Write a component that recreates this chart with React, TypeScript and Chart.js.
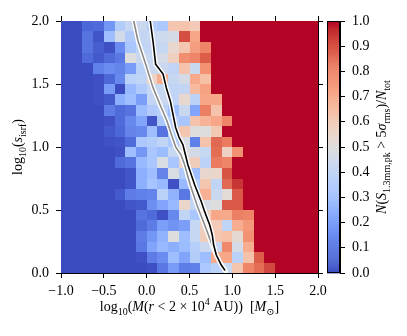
import { useEffect, useRef } from 'react';
import { Chart, registerables } from 'chart.js';

Chart.register(...registerables);

// Bin edges of the 2D histogram
const xEdges = [-1, -0.875, -0.75, -0.625, -0.5, -0.375, -0.25, -0.125, 0, 0.125, 0.25, 0.375, 0.5, 0.625, 0.75, 0.875, 1, 1.125, 1.25, 1.375, 1.5, 1.625, 1.75, 1.875, 2];
const yEdges = [0, 0.0833, 0.1667, 0.25, 0.3333, 0.4167, 0.5, 0.5833, 0.6667, 0.75, 0.8333, 0.9167, 1, 1.0833, 1.1667, 1.25, 1.3333, 1.4167, 1.5, 1.5833, 1.6667, 1.75, 1.8333, 1.9167, 2];

// Detected fraction per cell, rows listed from the top (log s = 2) to the bottom (log s = 0)
const fractionRowsTopDown = [
  [0, 0, 0.06, 0.07, 0.18, 0.36, 0.42, 0.43, 0.37, 0.34, 0.62, 0.63, 0.6, 1, 1, 1, 1, 1, 1, 1, 1, 1, 1, 1],
  [0, 0, 0.09, 0.02, 0.3, 0.46, 0.35, 0.41, 0.42, 0.44, 0.47, 0.91, 0.72, 1, 1, 1, 1, 1, 1, 1, 1, 1, 1, 1],
  [0, 0, 0.09, 0.04, 0.01, 0.15, 0.33, 0.4, 0.41, 0.42, 0.54, 0.62, 0.74, 0.8, 1, 1, 1, 1, 1, 1, 1, 1, 1, 1],
  [0, 0, 0.07, 0.03, 0.07, 0.1, 0.5, 0.43, 0.42, 0.47, 0.58, 0.78, 0.8, 0.88, 1, 1, 1, 1, 1, 1, 1, 1, 1, 1],
  [0, 0, 0, 0.12, 0.15, 0.13, 0.19, 0.38, 0.43, 0.43, 0.4, 0.63, 0.43, 0.77, 1, 1, 1, 1, 1, 1, 1, 1, 1, 1],
  [0, 0, 0, 0.01, 0.06, 0.14, 0.38, 0.4, 0.57, 0.7, 0.42, 0.47, 0.71, 0.64, 1, 1, 1, 1, 1, 1, 1, 1, 1, 1],
  [0, 0, 0, 0.01, 0.19, 0, 0.28, 0.35, 0.42, 0.42, 0.4, 0.41, 0.66, 0.73, 1, 1, 1, 1, 1, 1, 1, 1, 1, 1],
  [0, 0, 0, 0.01, 0.03, 0.25, 0.3, 0.2, 0.41, 0.43, 0.4, 0.54, 0.39, 0.72, 0.72, 1, 1, 1, 1, 1, 1, 1, 1, 1],
  [0, 0, 0, 0, 0.11, 0.07, 0.09, 0.29, 0.35, 0.38, 0.3, 0.43, 0.22, 0.81, 0.63, 1, 1, 1, 1, 1, 1, 1, 1, 1],
  [0, 0, 0, 0, 0.01, 0.07, 0.14, 0.22, 0.02, 0.34, 0.37, 0.33, 0.63, 0.68, 0.72, 0.8, 1, 1, 1, 1, 1, 1, 1, 1],
  [0, 0, 0, 0, 0.03, 0.06, 0.13, 0.14, 0.3, 0.09, 0.34, 0.62, 0.5, 0.5, 0.61, 1, 1, 1, 1, 1, 1, 1, 1, 1],
  [0, 0, 0, 0, 0.01, 0.02, 0.07, 0.34, 0.36, 0.4, 0.34, 0.48, 0.12, 0.63, 0.86, 0.82, 1, 1, 1, 1, 1, 1, 1, 1],
  [0, 0, 0, 0, 0, 0.01, 0.3, 0.18, 0.33, 0.29, 0.42, 0.48, 0.46, 0.42, 0.85, 0.57, 0.77, 1, 1, 1, 1, 1, 1, 1],
  [0, 0, 0, 0, 0, 0.07, 0.09, 0.28, 0.33, 0.48, 0.33, 0.55, 0.59, 0.39, 0.82, 0.8, 1, 1, 1, 1, 1, 1, 1, 1],
  [0, 0, 0, 0, 0, 0, 0.02, 0.25, 0.3, 0.13, 0.48, 0.35, 0.3, 0.54, 0.55, 0.9, 1, 1, 1, 1, 1, 1, 1, 1],
  [0, 0, 0, 0, 0, 0, 0.02, 0.25, 0.32, 0.28, 0.01, 0.28, 0.36, 0.62, 0.4, 0.86, 0.95, 1, 1, 1, 1, 1, 1, 1],
  [0, 0, 0, 0, 0, 0.03, 0.11, 0.12, 0.13, 0.38, 0.26, 0.1, 0.37, 0.69, 0.43, 0.52, 0.89, 1, 1, 1, 1, 1, 1, 1],
  [0, 0, 0, 0, 0, 0, 0.02, 0.03, 0.16, 0.22, 0.28, 0.55, 0.41, 0.47, 0.5, 0.89, 0.89, 1, 1, 1, 1, 1, 1, 1],
  [0, 0, 0, 0, 0, 0, 0, 0.09, 0.07, 0.01, 0.14, 0.4, 0.33, 0.57, 0.72, 0.71, 0.81, 0.8, 1, 1, 1, 1, 1, 1],
  [0, 0, 0, 0, 0, 0, 0, 0.07, 0.11, 0.2, 0.17, 0.2, 0.42, 0.57, 0.6, 0.4, 0.7, 0.75, 1, 1, 1, 1, 1, 1],
  [0, 0, 0, 0, 0, 0, 0, 0.11, 0.18, 0.26, 0.5, 0.3, 0.42, 0.59, 0.62, 0.64, 0.53, 0.77, 1, 1, 1, 1, 1, 1],
  [0, 0, 0, 0, 0, 0, 0, 0.1, 0.22, 0.28, 0.25, 0.29, 0.37, 0.43, 0.42, 0.79, 0.47, 0.7, 1, 1, 1, 1, 1, 1],
  [0, 0, 0, 0, 0, 0, 0, 0.01, 0.11, 0.15, 0.3, 0.22, 0.36, 0.3, 0.71, 0.72, 0.38, 0.63, 0.88, 1, 1, 1, 1, 1],
  [0, 0, 0, 0, 0, 0, 0, 0, 0.01, 0.1, 0.19, 0.11, 0.12, 0.34, 0.38, 0.42, 0.62, 0.8, 0.85, 0.92, 1, 1, 1, 1],
];

// 50% detection contours (black and grey curves)
const blackLineX = [0.042, 0.074, 0.105, 0.156, 0.191, 0.229, 0.276, 0.307, 0.339, 0.377, 0.424, 0.482, 0.561, 0.638, 0.677, 0.736, 0.766, 0.782, 0.813, 0.871, 0.911];
const blackLineY = [2.0, 1.841, 1.656, 1.611, 1.579, 1.471, 1.365, 1.26, 1.153, 1.079, 1.016, 0.857, 0.698, 0.566, 0.487, 0.381, 0.302, 0.222, 0.143, 0.063, 0.024];
const greyLineX = [-0.151, -0.101, -0.011, 0.074, 0.171, 0.237, 0.288, 0.339, 0.401, 0.444, 0.509, 0.587, 0.677, 0.736, 0.794, 0.852, 0.922];
const greyLineY = [2.0, 1.841, 1.656, 1.471, 1.312, 1.206, 1.101, 1.0, 0.937, 0.857, 0.698, 0.54, 0.381, 0.275, 0.169, 0.09, 0.016];

const xTicks = [-1, -0.5, 0, 0.5, 1, 1.5, 2];
const yTicks = [0, 0.5, 1, 1.5, 2];
const cbTicks = [0, 0.1, 0.2, 0.3, 0.4, 0.5, 0.6, 0.7, 0.8, 0.9, 1];

const FONT = "'Liberation Serif', 'DejaVu Serif', serif";

// Moreland coolwarm table
const COOLWARM = [
  [59, 76, 192], [68, 90, 204], [77, 104, 215], [87, 117, 225], [98, 130, 234], [108, 142, 241],
  [119, 154, 247], [130, 165, 251], [141, 176, 254], [152, 185, 255], [163, 194, 255], [174, 201, 253],
  [184, 208, 249], [194, 213, 244], [204, 217, 238], [213, 219, 230], [221, 221, 221], [229, 216, 209],
  [236, 211, 197], [241, 204, 185], [245, 196, 173], [247, 187, 160], [247, 177, 148], [247, 166, 135],
  [244, 154, 123], [241, 141, 111], [236, 127, 99], [229, 112, 88], [222, 96, 77], [213, 80, 66],
  [203, 62, 56], [192, 40, 47], [180, 4, 38],
];

function coolwarm(v: number): string {
  const t = Math.max(0, Math.min(1, v)) * 32;
  const i = Math.min(31, Math.floor(t));
  const f = t - i;
  const a = COOLWARM[i];
  const b = COOLWARM[i + 1];
  const c = a.map((av, k) => Math.round(av + (b[k] - av) * f));
  return `rgb(${c[0]},${c[1]},${c[2]})`;
}

const fmt = (v: any) => {
  const n = Number(v);
  return (n < 0 ? '\u2212' : '') + Math.abs(n).toFixed(1);
};

type Seg = { t: string; it?: boolean; sub?: boolean; sup?: boolean };

function drawRich(ctx: CanvasRenderingContext2D, segs: Seg[], x: number, y: number, size: number, rot: number) {
  ctx.save();
  ctx.translate(x, y);
  ctx.rotate(rot);
  ctx.fillStyle = '#000';
  ctx.textBaseline = 'alphabetic';
  ctx.textAlign = 'left';
  const fontFor = (s: Seg) => `${s.it ? 'italic ' : ''}${s.sub || s.sup ? Math.round(size * 0.7) : size}px ${FONT}`;
  let total = 0;
  const widths = segs.map((s) => {
    ctx.font = fontFor(s);
    const w = ctx.measureText(s.t).width;
    total += w;
    return w;
  });
  let cx = -total / 2;
  segs.forEach((s, i) => {
    ctx.font = fontFor(s);
    const dy = s.sub ? size * 0.28 : s.sup ? -size * 0.42 : 0;
    ctx.fillText(s.t, cx, dy);
    cx += widths[i];
  });
  ctx.restore();
}

const heatmapPlugin = {
  id: 'heatmap',
  beforeDatasetsDraw(chart: any) {
    const { ctx, chartArea, scales } = chart;
    const xs = scales.x;
    const ys = scales.y;
    ctx.save();
    ctx.beginPath();
    ctx.rect(chartArea.left, chartArea.top, chartArea.right - chartArea.left, chartArea.bottom - chartArea.top);
    ctx.clip();
    const nRows = fractionRowsTopDown.length;
    fractionRowsTopDown.forEach((row, ti) => {
      const r = nRows - 1 - ti;
      const y0 = Math.round(ys.getPixelForValue(yEdges[r + 1]));
      const y1 = Math.round(ys.getPixelForValue(yEdges[r]));
      row.forEach((v, c) => {
        const x0 = Math.round(xs.getPixelForValue(xEdges[c]));
        const x1 = Math.round(xs.getPixelForValue(xEdges[c + 1]));
        ctx.fillStyle = coolwarm(v);
        ctx.fillRect(x0, y0, x1 - x0, y1 - y0);
      });
    });
    ctx.restore();
  },
  afterDraw(chart: any) {
    const { ctx, chartArea } = chart;
    const cx = (chartArea.left + chartArea.right) / 2;
    const cy = (chartArea.top + chartArea.bottom) / 2;
    drawRich(
      ctx,
      [
        { t: 'log' }, { t: '10', sub: true }, { t: '(' }, { t: 'M', it: true }, { t: '(' }, { t: 'r', it: true },
        { t: ' < 2 \u00d7 10' }, { t: '4', sup: true }, { t: ' AU))  [' }, { t: 'M', it: true }, { t: '\u2299', sub: true }, { t: ']' },
      ],
      cx, 311, 14, 0
    );
    drawRich(
      ctx,
      [{ t: 'log' }, { t: '10', sub: true }, { t: '(' }, { t: 's', it: true }, { t: 'isrf', sub: true }, { t: ')' }],
      22, cy, 14, -Math.PI / 2
    );
  },
};

const colorbarPlugin = {
  id: 'colorbar',
  beforeDatasetsDraw(chart: any) {
    const { ctx, chartArea, scales } = chart;
    const ys = scales.y;
    const n = 256;
    for (let i = 0; i < n; i++) {
      const y0 = ys.getPixelForValue((i + 1) / n);
      const y1 = ys.getPixelForValue(i / n);
      ctx.fillStyle = coolwarm((i + 0.5) / n);
      ctx.fillRect(chartArea.left, y0, chartArea.right - chartArea.left, y1 - y0 + 0.5);
    }
  },
  afterDraw(chart: any) {
    const { ctx, chartArea } = chart;
    ctx.save();
    ctx.strokeStyle = '#000';
    ctx.lineWidth = 1;
    ctx.strokeRect(chartArea.left + 0.5, chartArea.top + 0.5, chartArea.right - chartArea.left - 1, chartArea.bottom - chartArea.top - 1);
    ctx.restore();
    const cy = (chartArea.top + chartArea.bottom) / 2;
    drawRich(
      ctx,
      [
        { t: 'N', it: true }, { t: '(' }, { t: 'S', it: true }, { t: '1.3mm,pk', sub: true }, { t: ' > 5' },
        { t: '\u03c3', it: true }, { t: 'rms', sub: true }, { t: ')/' }, { t: 'N', it: true }, { t: 'tot', sub: true },
      ],
      386, cy, 14, -Math.PI / 2
    );
  },
};

const gridOpts = { drawOnChartArea: false, drawTicks: true, tickLength: 5, color: '#000', lineWidth: 1 };
const borderOpts = { display: true, color: '#000', width: 1 };
const tickFont = { family: FONT, size: 14 };

export default function App() {
  const mainRef = useRef<HTMLCanvasElement>(null);
  const cbRef = useRef<HTMLCanvasElement>(null);

  useEffect(() => {
    const blackPts = blackLineX.map((x, i) => ({ x, y: blackLineY[i] }));
    const greyPts = greyLineX.map((x, i) => ({ x, y: greyLineY[i] }));
    const lineBase = { showLine: true, pointRadius: 0, tension: 0, borderJoinStyle: 'round', borderCapStyle: 'round' };

    const main = new Chart(mainRef.current as HTMLCanvasElement, {
      type: 'scatter',
      data: {
        datasets: [
          { ...lineBase, data: blackPts, borderColor: '#000', borderWidth: 1.6 },
          { ...lineBase, data: blackPts, borderColor: '#fff', borderWidth: 4.5 },
          { ...lineBase, data: greyPts, borderColor: '#8a8a8a', borderWidth: 1.6 },
          { ...lineBase, data: greyPts, borderColor: '#fff', borderWidth: 4.5 },
        ] as any,
      },
      options: {
        animation: false,
        responsive: false,
        devicePixelRatio: 1,
        layout: { padding: 0 },
        plugins: { legend: { display: false }, tooltip: { enabled: false } },
        scales: {
          x: {
            type: 'linear', position: 'bottom', min: -1, max: 2, z: 1,
            afterBuildTicks: (s: any) => { s.ticks = xTicks.map((v) => ({ value: v })); },
            ticks: { callback: fmt, font: tickFont, color: '#000', padding: 5, maxRotation: 0, autoSkip: false },
            grid: gridOpts, border: borderOpts,
            afterFit: (s: any) => { s.height = 63; },
          },
          x2: {
            type: 'linear', position: 'top', min: -1, max: 2, z: 1,
            afterBuildTicks: (s: any) => { s.ticks = xTicks.map((v) => ({ value: v })); },
            ticks: { display: false },
            grid: gridOpts, border: borderOpts,
            afterFit: (s: any) => { s.height = 21; },
          },
          y: {
            type: 'linear', position: 'left', min: 0, max: 2, z: 1,
            afterBuildTicks: (s: any) => { s.ticks = yTicks.map((v) => ({ value: v })); },
            ticks: { callback: fmt, font: tickFont, color: '#000', padding: 7, autoSkip: false },
            grid: gridOpts, border: borderOpts,
            afterFit: (s: any) => { s.width = 61; },
          },
          y2: {
            type: 'linear', position: 'right', min: 0, max: 2, z: 1,
            afterBuildTicks: (s: any) => { s.ticks = yTicks.map((v) => ({ value: v })); },
            ticks: { display: false },
            grid: gridOpts, border: borderOpts,
            afterFit: (s: any) => { s.width = 89; },
          },
        },
      } as any,
      plugins: [heatmapPlugin],
    });

    const cb = new Chart(cbRef.current as HTMLCanvasElement, {
      type: 'scatter',
      data: { datasets: [] },
      options: {
        animation: false,
        responsive: false,
        devicePixelRatio: 1,
        layout: { padding: { left: 327, top: 21, bottom: 63, right: 0 } },
        plugins: { legend: { display: false }, tooltip: { enabled: false } },
        scales: {
          x: { type: 'linear', display: false, min: 0, max: 1 },
          y: {
            type: 'linear', position: 'right', min: 0, max: 1, z: 1,
            afterBuildTicks: (s: any) => { s.ticks = cbTicks.map((v) => ({ value: v })); },
            ticks: { callback: (v: any) => Number(v).toFixed(1), font: tickFont, color: '#000', padding: 7, autoSkip: false },
            grid: gridOpts, border: borderOpts,
            afterFit: (s: any) => { s.width = 67; },
          },
        },
      } as any,
      plugins: [colorbarPlugin],
    });

    return () => {
      main.destroy();
      cb.destroy();
    };
  }, []);

  return (
    <div style={{ position: 'fixed', left: 0, top: 0, width: 407, height: 336, background: '#fff' }}>
      <canvas ref={mainRef} width={407} height={336} style={{ position: 'absolute', left: 0, top: 0 }} />
      <canvas ref={cbRef} width={407} height={336} style={{ position: 'absolute', left: 0, top: 0 }} />
    </div>
  );
}
